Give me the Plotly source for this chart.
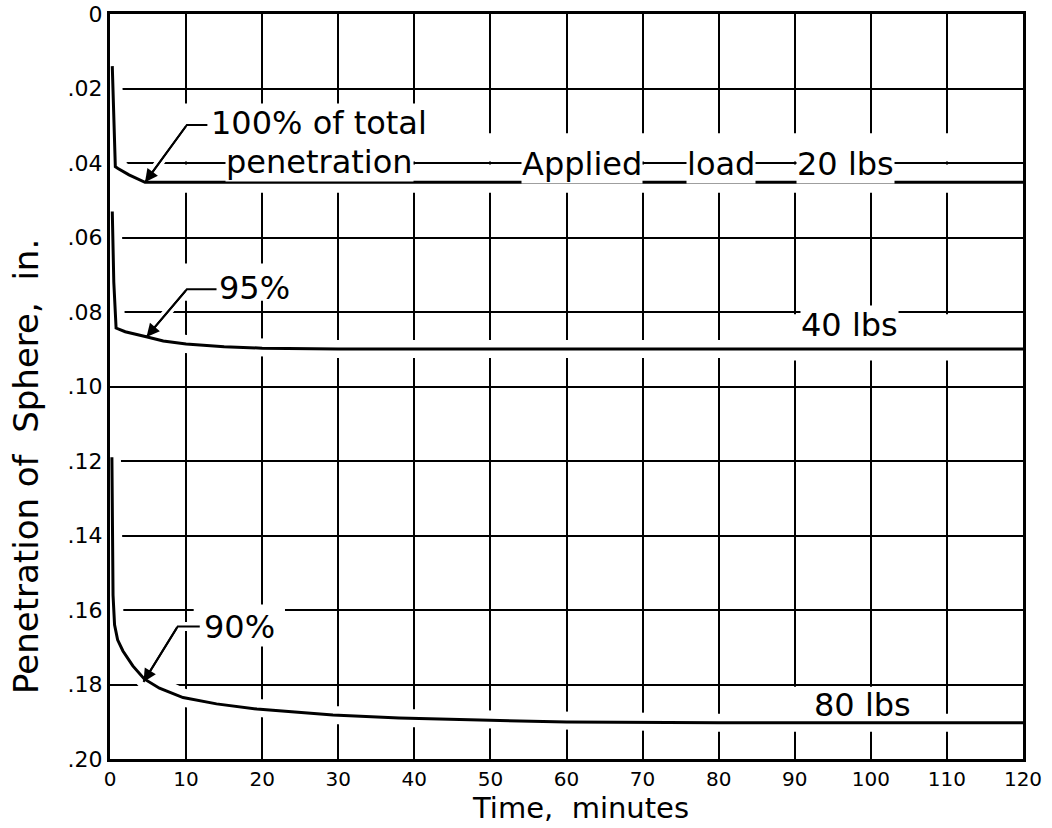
import plotly.graph_objects as go

# ---------------- data ----------------
time_20 = [0.3, 0.5, 0.7, 1.05, 2.5, 4.6, 10, 120]
pen_20 = [0.014, 0.030, 0.041, 0.0415, 0.0432, 0.0452, 0.0452, 0.0452]

time_40 = [0.3, 0.5, 0.8, 2.0, 4.9, 7, 10, 15, 20, 30, 120]
pen_40 = [0.053, 0.072, 0.0843, 0.0853, 0.0867, 0.0878, 0.0886, 0.0893, 0.0897, 0.0899, 0.0899]

time_80 = [0.25, 0.3, 0.4, 0.6, 1.0, 1.7, 3.0, 4.5, 6.5, 9.6, 14, 19.3, 29.3, 38, 50, 60, 80, 120]
pen_80 = [0.119, 0.142, 0.156, 0.164, 0.168, 0.171, 0.175, 0.1785, 0.181, 0.1835, 0.1852,
          0.1866, 0.1882, 0.189, 0.1897, 0.1901, 0.1903, 0.1903]

x_ticks = [0, 10, 20, 30, 40, 50, 60, 70, 80, 90, 100, 110, 120]
y_ticks = [0, 0.02, 0.04, 0.06, 0.08, 0.10, 0.12, 0.14, 0.16, 0.18, 0.20]
y_ticktext = ["0", ".02", ".04", ".06", ".08", ".10", ".12", ".14", ".16", ".18", ".20"]

# leader lines: [stub end, elbow, arrow tip]
lead_100_x = [12.8, 10.1, 4.6]
lead_100_y = [0.0298, 0.0298, 0.0452]
lead_95_x = [14.0, 10.1, 4.8]
lead_95_y = [0.0739, 0.0739, 0.0867]
lead_90_x = [11.8, 8.9, 4.4]
lead_90_y = [0.1644, 0.1644, 0.1793]

FONT = "DejaVu Sans"

fig = go.Figure()

curves = [(time_20, pen_20), (time_40, pen_40), (time_80, pen_80)]
leaders = [(lead_100_x, lead_100_y), (lead_95_x, lead_95_y), (lead_90_x, lead_90_y)]

# white halos (break the grid around the curves, drafting style)
for tx, py in curves:
    fig.add_trace(go.Scatter(x=tx, y=py, mode="lines", line=dict(color="white", width=18),
                             hoverinfo="skip", showlegend=False))
for lx, ly in leaders:
    fig.add_trace(go.Scatter(x=lx, y=ly, mode="lines", line=dict(color="white", width=9),
                             hoverinfo="skip", showlegend=False))
# black curves
for tx, py in curves:
    fig.add_trace(go.Scatter(x=tx, y=py, mode="lines", line=dict(color="black", width=3),
                             showlegend=False))
for lx, ly in leaders:
    fig.add_trace(go.Scatter(x=lx, y=ly, mode="lines", line=dict(color="black", width=2),
                             hoverinfo="skip", showlegend=False))

# arrowheads
for lx, ly in leaders:
    fig.add_annotation(x=lx[2], y=ly[2], ax=lx[1], ay=ly[1], axref="x", ayref="y",
                       xref="x", yref="y", text="", showarrow=True, arrowhead=2,
                       arrowsize=1.3, arrowwidth=2, arrowcolor="black")

# white gaps in the grid behind the lettering
gaps = [
    (9, 45, 0.024, 0.0396),
    (47, 120, 0.032, 0.0396),
    (9, 120, 0.0404, 0.048),
    (9, 25, 0.067, 0.077),
    (88, 115, 0.0806, 0.093),
    (11, 23, 0.1585, 0.1695),
    (87, 106, 0.1806, 0.190),
]
for x0, x1, y0, y1 in gaps:
    fig.add_shape(type="rect", x0=x0, x1=x1, y0=y0, y1=y1, xref="x", yref="y",
                  fillcolor="white", line=dict(width=0), layer="between")

afont = dict(family=FONT, size=32, color="black")


def label(text, x, y, anchor="left", bg=None):
    fig.add_annotation(x=x, y=y, xref="x", yref="y", text=text, showarrow=False,
                       xanchor=anchor, yanchor="middle", font=afont,
                       bgcolor=bg if bg else "rgba(0,0,0,0)", borderpad=0)


label("100% of total", 13.1, 0.0293)
label("penetration", 15.1, 0.0396, bg="white")
label("Applied", 62.0, 0.0402, anchor="center", bg="white")
label("load", 80.3, 0.0402, anchor="center", bg="white")
label("20 lbs", 96.7, 0.0402, anchor="center", bg="white")
label("95%", 14.2, 0.0736)
label("40 lbs", 97.2, 0.0835, anchor="center", bg="white")
label("90%", 12.2, 0.1645, bg="white")
label("80 lbs", 98.9, 0.1855, anchor="center")

# axis titles (positioned as in the original)
fig.add_annotation(x=-0.092, y=0.392, xref="paper", yref="paper",
                   text="Penetration of  Sphere,  in.", textangle=-90, showarrow=False,
                   xanchor="center", yanchor="middle",
                   font=dict(family=FONT, size=34, color="black"))
fig.add_annotation(x=0.515, y=-0.0913, xref="paper", yref="paper",
                   text="Time,  minutes", showarrow=False,
                   xanchor="center", yanchor="bottom",
                   font=dict(family=FONT, size=29, color="black"))

fig.update_xaxes(range=[0, 120], tickvals=x_ticks, showgrid=True, gridcolor="black",
                 gridwidth=2, showline=True, mirror=True, linecolor="black", linewidth=3,
                 zeroline=False, ticks="", tickfont=dict(family=FONT, size=20, color="black"))
fig.update_yaxes(range=[0.20, 0], tickvals=y_ticks, ticktext=y_ticktext, showgrid=True,
                 gridcolor="black", gridwidth=2, showline=True, mirror=True, linecolor="black",
                 linewidth=3, zeroline=False, ticks="",
                 tickfont=dict(family=FONT, size=22, color="black"))

fig.update_layout(width=1052, height=828, margin=dict(l=110, r=29, t=14, b=69, autoexpand=False),
                  plot_bgcolor="white", paper_bgcolor="white", showlegend=False,
                  font=dict(family=FONT, color="black"))

fig.write_html("out.html")
